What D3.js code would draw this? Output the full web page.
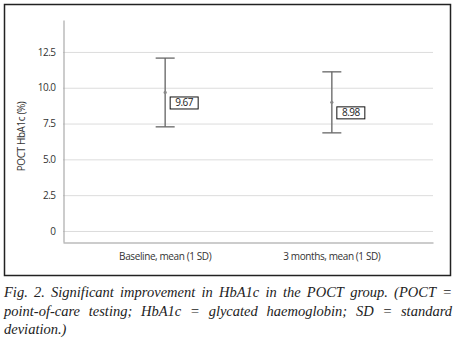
<!DOCTYPE html>
<html>
<head>
<meta charset="utf-8">
<script src="https://cdn.jsdelivr.net/npm/d3@7"></script>
<style>
  body { margin: 0; background: #fff; }
  svg { display: block; }
</style>
</head>
<body>
<svg id="drawing_region"></svg>
<script>
// data
var categories = ["Baseline, mean (1 SD)", "3 months, mean (1 SD)"];
var means = [9.67, 8.98];
var sds = [2.40, 2.13];
var yTicks = [0, 2.5, 5.0, 7.5, 10.0, 12.5];
var yTickLabels = ["0", "2.5", "5.0", "7.5", "10.0", "12.5"];
var captionLines = [
    "Fig. 2. Significant improvement in HbA1c in the POCT group. (POCT =",
    "point-of-care testing; HbA1c = glycated haemoglobin; SD = standard",
    "deviation.)"
];

var width = 457;
var height = 344;
var margin = { top: 20, right: 24, bottom: 102, left: 63 };
var axisFont = '"Open Sans", sans-serif';

var svg = d3.select('#drawing_region')
    .attr('width', width)
    .attr('height', height);

// outer frame
svg.append('rect')
    .attr('x', 4.5).attr('y', 4.5)
    .attr('width', 446).attr('height', 271)
    .attr('fill', 'none')
    .attr('stroke', '#222')
    .attr('stroke-width', 1.5);

var x = d3.scalePoint()
    .domain(categories)
    .range([margin.left, width - margin.right])
    .padding(0.61);

var y = d3.scaleLinear()
    .domain([-0.77, 14.73])
    .range([242, margin.top]);

var g = svg.append('g');

// grid
g.selectAll('.grid')
    .data(yTicks)
    .enter()
    .append('line')
    .attr('x1', margin.left)
    .attr('x2', width - margin.right)
    .attr('y1', d => y(d) + 0.5)
    .attr('y2', d => y(d) + 0.5)
    .attr('stroke', '#dcdcdc')
    .attr('stroke-width', 1);

// y axis
var yAxis = d3.axisLeft(y)
    .tickValues(yTicks)
    .tickSize(0)
    .tickPadding(8)
    .tickFormat((d, i) => yTickLabels[i]);

var ya = g.append('g')
    .attr('transform', `translate(${margin.left + 0.5},0)`)
    .call(yAxis);
ya.select('.domain').attr('stroke', '#999');
ya.selectAll('text')
    .style('font-family', axisFont)
    .style('font-size', '10px')
    .style('letter-spacing', '-0.5px')
    .attr('fill', '#333');

// x axis
var xAxis = d3.axisBottom(x).tickSize(0).tickPadding(10);
var xa = g.append('g')
    .attr('transform', `translate(0,${y(y.domain()[0]) + 0.5})`)
    .call(xAxis);
xa.select('.domain').attr('stroke', '#999');
xa.selectAll('text')
    .style('font-family', axisFont)
    .style('font-size', '10px')
    .style('letter-spacing', '-0.4px')
    .attr('fill', '#333');

// y title
svg.append('text')
    .attr('transform', `translate(25,${y(6.6)}) rotate(-90)`)
    .attr('text-anchor', 'middle')
    .style('font-family', axisFont)
    .style('font-size', '10px')
    .style('letter-spacing', '-0.4px')
    .attr('fill', '#333')
    .text('POCT HbA1c (%)');

// error bars
var bars = g.selectAll('.bar')
    .data(categories)
    .enter()
    .append('g')
    .attr('class', 'bar');

bars.append('line')
    .attr('x1', d => x(d) + 0.5)
    .attr('x2', d => x(d) + 0.5)
    .attr('y1', (d, i) => y(means[i] + sds[i]))
    .attr('y2', (d, i) => y(means[i] - sds[i]))
    .attr('stroke', '#777')
    .attr('stroke-width', 1.5);

[1, -1].forEach(s => {
    bars.append('line')
        .attr('x1', d => x(d) - 9)
        .attr('x2', d => x(d) + 10)
        .attr('y1', (d, i) => y(means[i] + s * sds[i]))
        .attr('y2', (d, i) => y(means[i] + s * sds[i]))
        .attr('stroke', '#666')
        .attr('stroke-width', 1.3);
});

bars.append('circle')
    .attr('cx', d => x(d) + 0.5)
    .attr('cy', (d, i) => y(means[i]))
    .attr('r', 1.6)
    .attr('fill', '#888');

// value labels
bars.append('rect')
    .attr('x', d => x(d) + 5.5)
    .attr('y', (d, i) => y(means[i]) + 4.5)
    .attr('width', 28)
    .attr('height', 12)
    .attr('fill', '#fff')
    .attr('stroke', '#111')
    .attr('stroke-width', 1);

bars.append('text')
    .attr('x', d => x(d) + 19.5)
    .attr('y', (d, i) => y(means[i]) + 14)
    .attr('text-anchor', 'middle')
    .style('font-family', axisFont)
    .style('font-size', '10px')
    .style('letter-spacing', '-0.5px')
    .attr('fill', '#222')
    .text((d, i) => means[i].toFixed(2));

// caption, justified by hand
var capLeft = 4, capRight = 452;
var capY = [297, 316, 334];
captionLines.forEach((line, li) => {
    var words = line.split(' ');
    var t = svg.append('text')
        .attr('y', capY[li])
        .style('font-family', '"Liberation Serif", serif')
        .style('font-style', 'italic')
        .style('font-size', '14.5px')
        .attr('fill', '#222');
    if (li === captionLines.length - 1) {
        t.attr('x', capLeft).text(line);
        return;
    }
    var spans = words.map(w => t.append('tspan').text(w));
    var widths = spans.map(s => s.node().getComputedTextLength());
    var total = d3.sum(widths);
    var gap = (capRight - capLeft - total) / (words.length - 1);
    var cx = capLeft;
    spans.forEach((s, i) => {
        s.attr('x', cx);
        cx += widths[i] + gap;
    });
});
</script>
</body>
</html>
